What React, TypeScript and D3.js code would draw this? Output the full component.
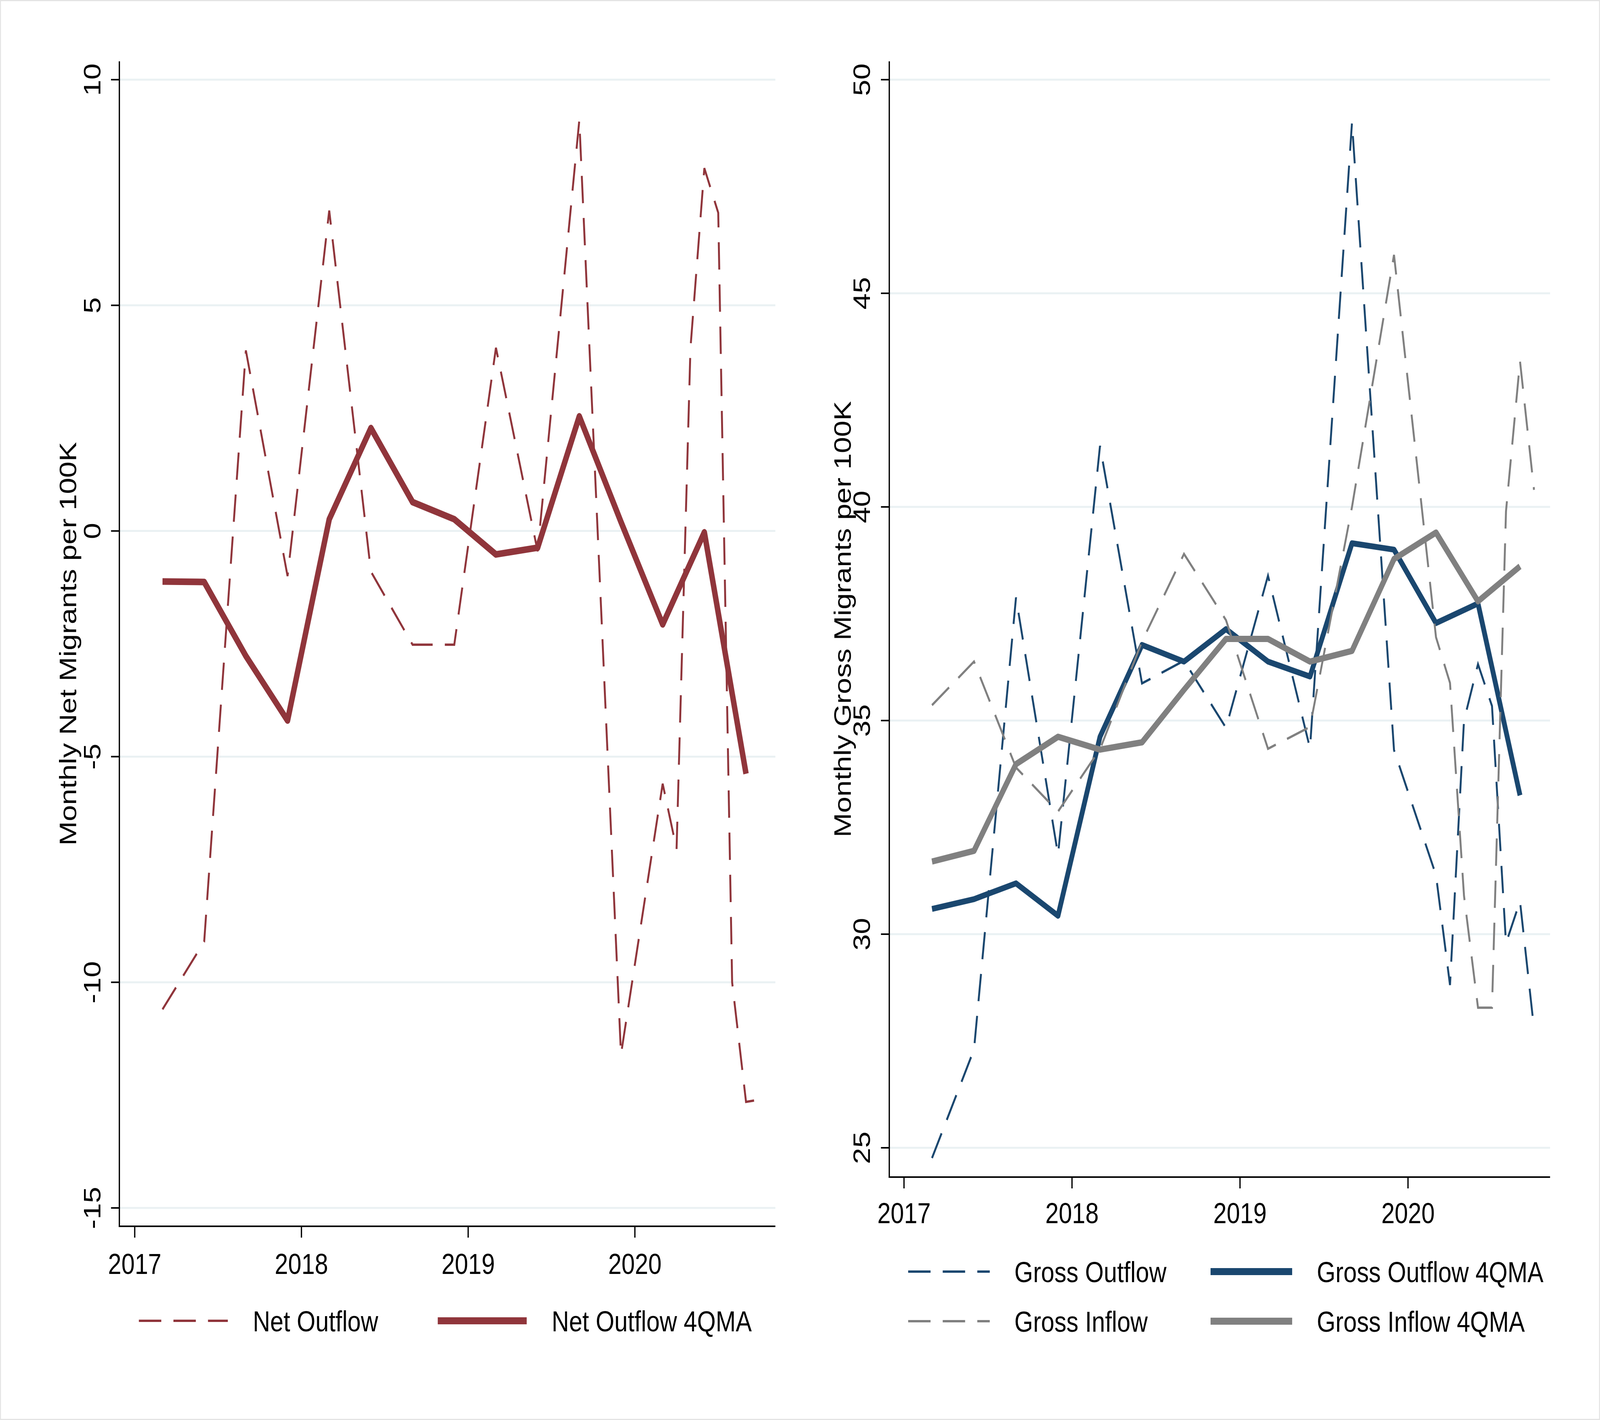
import React from 'react';
import * as d3 from 'd3';

// dates are year-month, drawn at year + (month - 1) / 12 like a Stata monthly axis
const flowDates = [
  '2017-03', '2017-06', '2017-09', '2017-12',
  '2018-03', '2018-06', '2018-09', '2018-12',
  '2019-03', '2019-06', '2019-09', '2019-12',
  '2020-03', '2020-04', '2020-05', '2020-06', '2020-07', '2020-08', '2020-09', '2020-10',
];
const maDates = [
  '2017-03', '2017-06', '2017-09', '2017-12',
  '2018-03', '2018-06', '2018-09', '2018-12',
  '2019-03', '2019-06', '2019-09', '2019-12',
  '2020-03', '2020-06', '2020-09',
];

const netOutflow = [-10.6, -9.1, 4.0, -1.0, 7.1, -0.9, -2.52, -2.52, 4.06, -0.45, 9.1, -11.6, -5.6, -7.05, 4.05, 8.04, 7.05, -10.0, -12.65, -12.6];
const netOutflow4QMA = [-1.12, -1.13, -2.77, -4.2, 0.26, 2.28, 0.64, 0.26, -0.52, -0.37, 2.54, 0.2, -2.07, -0.03, -5.38];

const grossOutflow = [24.76, 27.3, 37.88, 31.86, 41.43, 35.87, 36.4, 34.83, 38.39, 34.35, 49.0, 34.31, 31.38, 28.81, 35.0, 36.32, 35.34, 29.79, 30.77, 27.79];
const grossInflow = [35.36, 36.38, 33.9, 32.87, 34.33, 36.85, 38.9, 37.35, 34.34, 34.85, 40.0, 45.9, 36.95, 35.88, 30.9, 28.28, 28.28, 39.9, 43.41, 40.4];
const grossOutflow4QMA = [30.59, 30.82, 31.19, 30.43, 34.62, 36.77, 36.38, 37.14, 36.38, 36.03, 39.15, 39.0, 37.28, 37.74, 33.25];
const grossInflow4QMA = [31.7, 31.95, 33.98, 34.62, 34.32, 34.49, 35.72, 36.91, 36.91, 36.38, 36.63, 38.78, 39.4, 37.79, 38.61];

const yearTicks = [2017, 2018, 2019, 2020];
const netTicks = [-15, -10, -5, 0, 5, 10];
const grossTicks = [25, 30, 35, 40, 45, 50];

const MAROON = '#90353b';
const NAVY = '#1a476f';
const GRAY = '#808080';
const GRID = '#eaf1f3';
const FONT = "'Liberation Sans', Arial, Helvetica, sans-serif";
const FS = 75;
const DASH = '70 38';

const toYear = (s: string) => {
  const [y, m] = s.split('-').map(Number);
  return y + (m - 1) / 12;
};

interface Series {
  dates: string[];
  values: number[];
  color: string;
  width: number;
  dashed: boolean;
}

interface LegendItem {
  label: string;
  color: string;
  width: number;
  dashed: boolean;
  x: number; // sample start
  y: number;
}

interface PanelProps {
  left: number;
  right: number;
  top: number;
  bottom: number;
  x: d3.ScaleLinear<number, number>;
  y: d3.ScaleLinear<number, number>;
  yTicks: number[];
  yTitle: string;
  yTitleX: number;
  yLabelX: number;
  xLabelY: number;
  series: Series[];
  legend: LegendItem[];
  sampleLen: number;
  textGap: number;
}

const Panel: React.FC<PanelProps> = (p) => {
  const line = (s: Series) =>
    d3
      .line<number>()
      .x((_, i) => p.x(toYear(s.dates[i])))
      .y((v) => p.y(v))(s.values) ?? '';

  return (
    <g>
      {/* grid */}
      {p.yTicks.map((t) => (
        <line key={'g' + t} x1={p.left} x2={p.right} y1={p.y(t)} y2={p.y(t)} stroke={GRID} strokeWidth={5} />
      ))}
      {/* series */}
      {p.series.map((s, i) => (
        <path
          key={i}
          d={line(s)}
          fill="none"
          stroke={s.color}
          strokeWidth={s.width}
          strokeDasharray={s.dashed ? DASH : undefined}
          strokeLinejoin={s.dashed ? 'miter' : 'round'}
          strokeLinecap="butt"
        />
      ))}
      {/* axes */}
      <line x1={p.left} x2={p.left} y1={p.top} y2={p.bottom + 2} stroke="#000" strokeWidth={4} />
      <line x1={p.left - 2} x2={p.right} y1={p.bottom} y2={p.bottom} stroke="#000" strokeWidth={4} />
      {p.yTicks.map((t) => (
        <g key={'y' + t}>
          <line x1={p.left - 26} x2={p.left} y1={p.y(t)} y2={p.y(t)} stroke="#000" strokeWidth={4} />
          <text
            transform={`translate(${p.yLabelX},${p.y(t)}) rotate(-90)`}
            textAnchor="middle"
            fontSize={FS}
            fontFamily={FONT}
          >
            {t}
          </text>
        </g>
      ))}
      {yearTicks.map((t) => (
        <g key={'x' + t}>
          <line x1={p.x(t)} x2={p.x(t)} y1={p.bottom} y2={p.bottom + 29} stroke="#000" strokeWidth={4} />
          <text x={p.x(t)} y={p.xLabelY} textAnchor="middle" fontSize={FS} fontFamily={FONT}>
            {t}
          </text>
        </g>
      ))}
      <text
        transform={`translate(${p.yTitleX},${(p.top + p.bottom) / 2}) rotate(-90)`}
        textAnchor="middle"
        fontSize={FS}
        fontFamily={FONT}
      >
        {p.yTitle}
      </text>
      {/* legend */}
      {p.legend.map((l) => (
        <g key={l.label}>
          <line
            x1={l.x}
            x2={l.x + p.sampleLen}
            y1={l.y}
            y2={l.y}
            stroke={l.color}
            strokeWidth={l.width}
            strokeDasharray={l.dashed ? DASH : undefined}
          />
          <text x={l.x + p.sampleLen + p.textGap} y={l.y + 27} fontSize={FS} fontFamily={FONT}>
            {l.label}
          </text>
        </g>
      ))}
    </g>
  );
};

export default function App() {
  // the chart is laid out on a 5000 x 3636 canvas and stretched to the window
  const W = 5000;
  const H = 3636;

  // left panel
  const xNet = d3.scaleLinear().domain([2017, 2020]).range([421, 1984]);
  const yNet = d3.scaleLinear().domain([-15, 10]).range([3093, 204]);

  // right panel
  const xGross = d3.scaleLinear().domain([2017, 2020]).range([2825, 4400]);
  const yGross = d3.scaleLinear().domain([25, 50]).range([2939, 204]);

  return (
    <svg
      viewBox={`0 0 ${W} ${H}`}
      preserveAspectRatio="none"
      style={{ position: 'fixed', left: 0, top: 0, width: '100vw', height: '100vh', display: 'block', background: '#fff' }}
    >
      <rect x={0} y={0} width={W} height={H} fill="#fff" />
      <rect x={1.5} y={1.5} width={W - 3} height={H - 3} fill="none" stroke="#e4e4e4" strokeWidth={3} />
      <Panel
        left={373}
        right={2423}
        top={157}
        bottom={3140}
        x={xNet}
        y={yNet}
        yTicks={netTicks}
        yTitle="Monthly Net Migrants per 100K"
        yTitleX={238}
        yLabelX={314}
        xLabelY={3262}
        series={[
          { dates: flowDates, values: netOutflow, color: MAROON, width: 6, dashed: true },
          { dates: maDates, values: netOutflow4QMA, color: MAROON, width: 17, dashed: false },
        ]}
        legend={[
          { label: 'Net Outflow', color: MAROON, width: 6, dashed: true, x: 434, y: 3382 },
          { label: 'Net Outflow 4QMA', color: MAROON, width: 18, dashed: false, x: 1368, y: 3382 },
        ]}
        sampleLen={278}
        textGap={78}
      />
      <Panel
        left={2779}
        right={4844}
        top={157}
        bottom={3014}
        x={xGross}
        y={yGross}
        yTicks={grossTicks}
        yTitle="Monthly Gross Migrants per 100K"
        yTitleX={2659}
        yLabelX={2718}
        xLabelY={3132}
        series={[
          { dates: flowDates, values: grossOutflow, color: NAVY, width: 6, dashed: true },
          { dates: maDates, values: grossOutflow4QMA, color: NAVY, width: 15, dashed: false },
          { dates: flowDates, values: grossInflow, color: GRAY, width: 6, dashed: true },
          { dates: maDates, values: grossInflow4QMA, color: GRAY, width: 16, dashed: false },
        ]}
        legend={[
          { label: 'Gross Outflow', color: NAVY, width: 6, dashed: true, x: 2838, y: 3256 },
          { label: 'Gross Outflow 4QMA', color: NAVY, width: 18, dashed: false, x: 3783, y: 3256 },
          { label: 'Gross Inflow', color: GRAY, width: 6, dashed: true, x: 2838, y: 3383 },
          { label: 'Gross Inflow 4QMA', color: GRAY, width: 18, dashed: false, x: 3783, y: 3383 },
        ]}
        sampleLen={255}
        textGap={77}
      />
    </svg>
  );
}
